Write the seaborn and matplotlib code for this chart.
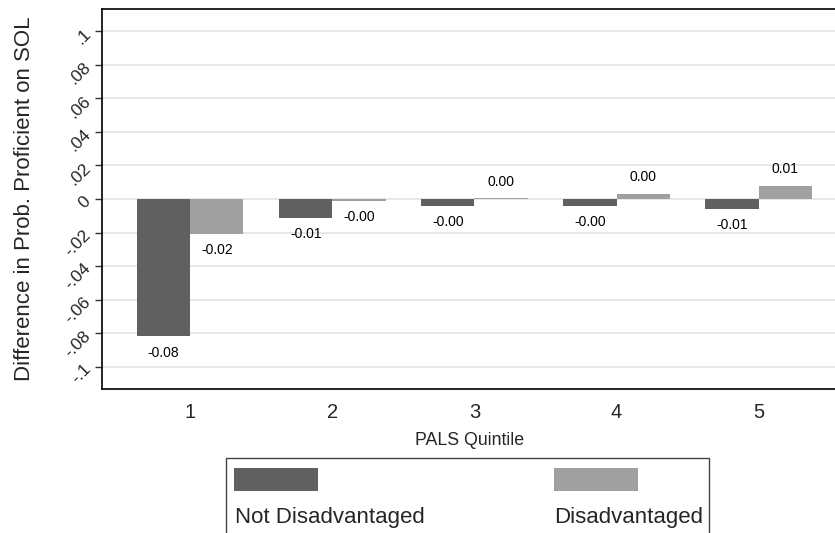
import matplotlib
matplotlib.use("Agg")
import matplotlib.pyplot as plt
import seaborn as sns
import pandas as pd
from matplotlib.patches import Rectangle

quintiles = ["1", "2", "3", "4", "5"]
not_disadv = [-0.0816, -0.0111, -0.0040, -0.0040, -0.0058]
disadv = [-0.0207, -0.0010, 0.0004, 0.0032, 0.0079]
groups = ["Not Disadvantaged", "Disadvantaged"]
ytick_vals = [-0.1, -0.08, -0.06, -0.04, -0.02, 0, 0.02, 0.04, 0.06, 0.08, 0.1]
ytick_labels = ["-.1", "-.08", "-.06", "-.04", "-.02", "0", ".02", ".04", ".06", ".08", ".1"]

df = pd.DataFrame({
    "quintile": quintiles * 2,
    "group": [groups[0]] * 5 + [groups[1]] * 5,
    "value": not_disadv + disadv,
})

sns.set_theme(style="white")
plt.rcParams["font.family"] = ["Liberation Sans", "DejaVu Sans"]

colors = {groups[0]: "#606060", groups[1]: "#a0a0a0"}

fig = plt.figure(figsize=(8.35, 5.33), dpi=100)
ax = fig.add_axes([0.1222, 0.2702, 0.8800, 0.7129])

sns.barplot(data=df, x="quintile", y="value", hue="group", palette=colors,
            width=0.75, saturation=1, legend=False, ax=ax, zorder=3,
            errorbar=None)

for cont in ax.containers:
    ax.bar_label(cont, fmt="%.2f", padding=7, fontsize=10, color="black")

for b in ax.patches:
    b.set_edgecolor("none")

ax.set_ylim(-0.1132, 0.1132)
ax.set_xlim(-0.62, 4.55)
ax.set_yticks(ytick_vals)
ax.set_yticklabels(ytick_labels, rotation=45, fontsize=12.5, ha="right", va="center",
                   rotation_mode="anchor")
ax.yaxis.grid(True, color="#e3e3e3", linewidth=1.2, zorder=0)
ax.set_axisbelow(True)
ax.tick_params(axis="y", left=True, length=5, width=1, color="#333333", pad=5)
ax.tick_params(axis="x", bottom=False, labelsize=14.5, pad=4)

ax.set_ylabel("Difference in Prob. Proficient on SOL", fontsize=16, labelpad=19)
ax.set_xlabel("PALS Quintile", fontsize=12.8, labelpad=7)

for s in ["left", "bottom", "top"]:
    ax.spines[s].set_visible(True)
    ax.spines[s].set_color("black")
    ax.spines[s].set_linewidth(1.2)
ax.spines["right"].set_visible(False)

# Legend box (Stata style: key above label)
W, H = 835, 533
def fx(px):
    return px / W
def fy(py):
    return 1 - py / H

fig.patches.append(Rectangle((fx(226), fy(545)), fx(709) - fx(226), fy(458) - fy(545),
                             transform=fig.transFigure, facecolor="white",
                             edgecolor="#444444", linewidth=1.0))
fig.patches.append(Rectangle((fx(234), fy(491)), fx(318) - fx(234), fy(468) - fy(491),
                             transform=fig.transFigure, facecolor=colors[groups[0]],
                             edgecolor="none"))
fig.patches.append(Rectangle((fx(554), fy(491)), fx(638) - fx(554), fy(468) - fy(491),
                             transform=fig.transFigure, facecolor=colors[groups[1]],
                             edgecolor="none"))
fig.text(fx(235), fy(517), groups[0], fontsize=16, ha="left", va="center")
fig.text(fx(554), fy(517), groups[1], fontsize=16, ha="left", va="center")

fig.savefig("out.png", dpi=100)
